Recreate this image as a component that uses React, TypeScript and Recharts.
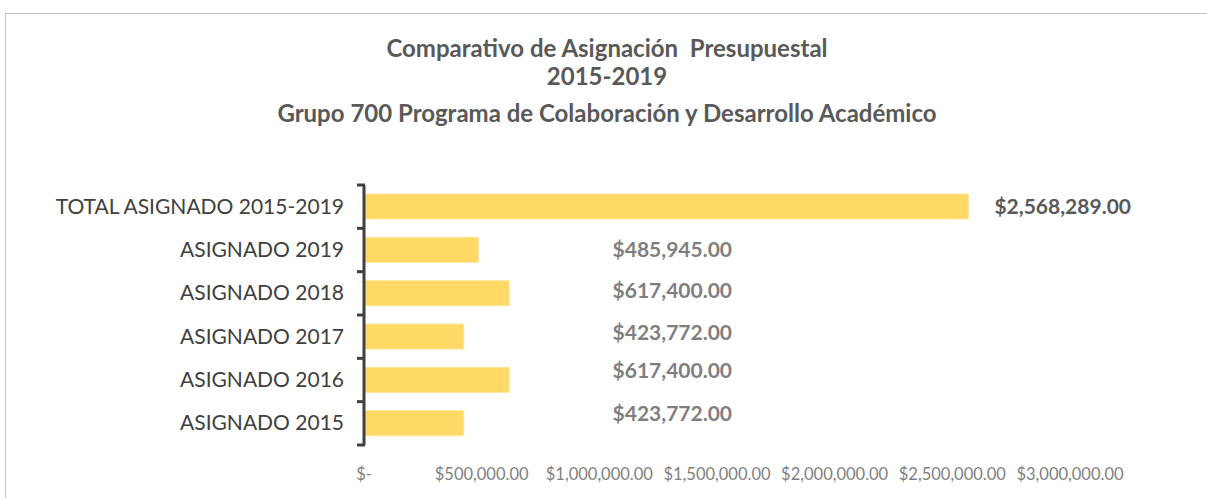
import React from 'react';
import { BarChart, Bar, XAxis, YAxis, LabelList } from 'recharts';

const categories = [
  'TOTAL ASIGNADO 2015-2019',
  'ASIGNADO 2019',
  'ASIGNADO 2018',
  'ASIGNADO 2017',
  'ASIGNADO 2016',
  'ASIGNADO 2015',
];
const amounts = [2568289, 485945, 617400, 423772, 617400, 423772];
const xTicks = [0, 500000, 1000000, 1500000, 2000000, 2500000, 3000000];
const titleLines = [
  'Comparativo de Asignación  Presupuestal',
  '2015-2019',
  'Grupo 700 Programa de Colaboración y Desarrollo Académico',
];

const data = categories.map((name, i) => ({ name, amount: amounts[i] }));

// styling
const CHART_W = 1200;
const CHART_H = 484;
const MARGIN = { top: 171, right: 136, bottom: 10, left: 8 };
const Y_W = 350;
const X_H = 43;
const PLOT_H = CHART_H - MARGIN.top - MARGIN.bottom - X_H;
const BAND = PLOT_H / categories.length;
const LABEL_AT = 1310000;
const LABEL_NUDGE = [0, 0, -2, -4, -9, -9];
const FONT = 'Lato, "Open Sans", sans-serif';

const money = (v: number) =>
  v === 0 ? '$-' : '$' + v.toLocaleString('en-US', { minimumFractionDigits: 2, maximumFractionDigits: 2 });

const CategoryTick = (props: any) => {
  const { x, y, payload, index } = props;
  const ax = x + 9;
  return (
    <g>
      {index === 0 && (
        <line x1={ax - 8} y1={y - BAND / 2} x2={ax} y2={y - BAND / 2} stroke="#404040" strokeWidth={3} />
      )}
      <line x1={ax - 8} y1={y + BAND / 2} x2={ax} y2={y + BAND / 2} stroke="#404040" strokeWidth={3} />
      <text x={x - 12} y={y} dy={7} textAnchor="end" fill="#404040" fontSize={21} fontFamily={FONT}>
        {payload.value}
      </text>
    </g>
  );
};

const ValueLabel = (props: any) => {
  const { x, y, width, height, value, index } = props;
  const cy = y + height / 2 + LABEL_NUDGE[index];
  if (index === 0) {
    return (
      <text x={x + width + 26} y={cy} dy={7} fill="#595959" fontSize={21} fontWeight={700} fontFamily={FONT}>
        {money(value)}
      </text>
    );
  }
  const lx = x + (width / value) * LABEL_AT;
  return (
    <text x={lx} y={cy} dy={7} textAnchor="middle" fill="#7f7f7f" fontSize={21} fontWeight={700} fontFamily={FONT}>
      {money(value)}
    </text>
  );
};

export default function App() {
  return (
    <div
      style={{
        position: 'absolute',
        left: 5,
        top: 13,
        width: 1210,
        height: 500,
        border: '1px solid #c4c4c4',
        background: '#fff',
        fontFamily: FONT,
      }}
    >
      {titleLines.map((t, i) => (
        <div
          key={i}
          style={{
            position: 'absolute',
            left: 0,
            width: 1202,
            top: [20, 48, 85][i],
            textAlign: 'center',
            whiteSpace: 'pre',
            fontSize: 24,
            fontWeight: 700,
            color: '#595959',
            lineHeight: '28px',
          }}
        >
          {t}
        </div>
      ))}
      <BarChart
        width={CHART_W}
        height={CHART_H}
        data={data}
        layout="vertical"
        margin={MARGIN}
        style={{ position: 'absolute', left: 0, top: 0 }}
      >
        <XAxis
          type="number"
          domain={[0, 3000000]}
          ticks={xTicks}
          tickFormatter={money}
          axisLine={false}
          tickLine={false}
          height={X_H}
          interval={0}
          tick={{ fill: '#7f7f7f', fontSize: 16.5, fontFamily: FONT }}
          dy={15}
        />
        <YAxis
          type="category"
          dataKey="name"
          width={Y_W}
          axisLine={{ stroke: '#404040', strokeWidth: 3 }}
          tickLine={false}
          interval={0}
          tick={<CategoryTick />}
        />
        <Bar dataKey="amount" fill="#FFD966" stroke="#FFE699" strokeWidth={1} barSize={25} isAnimationActive={false}>
          <LabelList dataKey="amount" content={<ValueLabel />} />
        </Bar>
      </BarChart>
    </div>
  );
}
